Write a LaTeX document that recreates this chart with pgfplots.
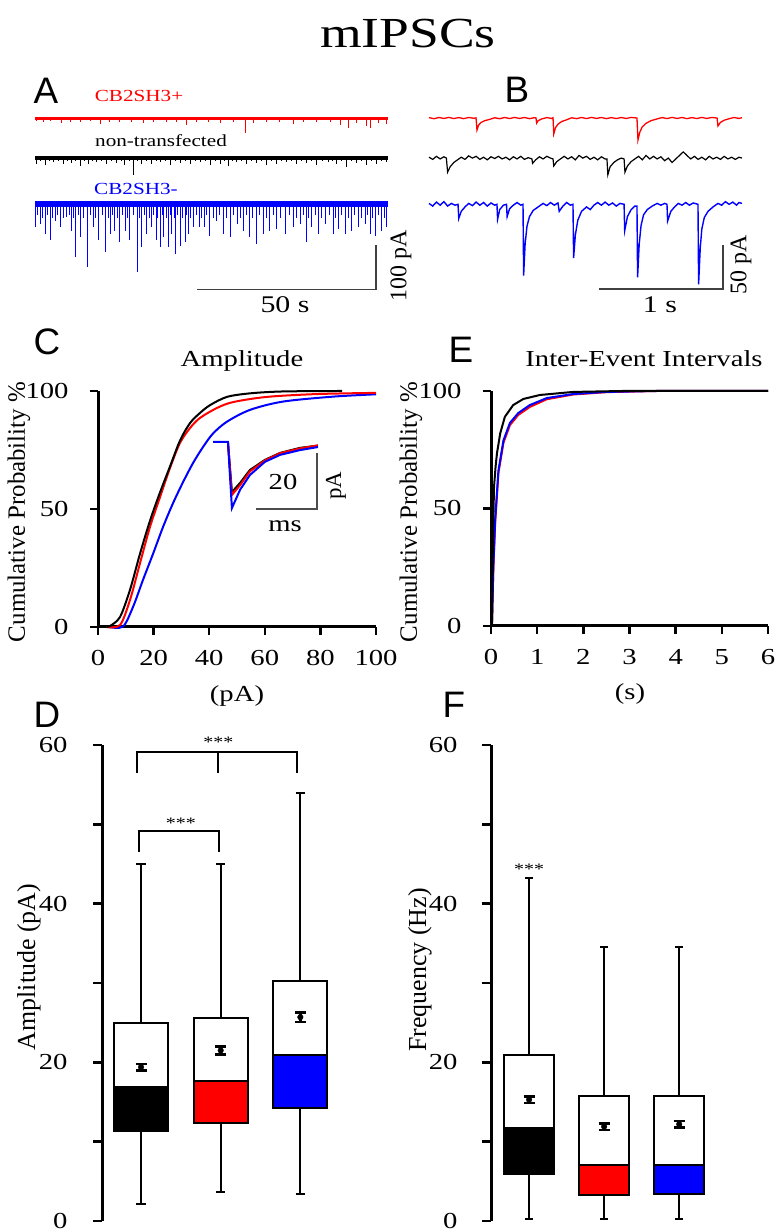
\documentclass[border=0pt]{standalone}
\usepackage{fontspec}
\setmainfont{Liberation Serif}[FakeStretch=1.25]
\newfontfamily\rotfont{Liberation Serif}
\newfontfamily\panelfont{Liberation Sans}
\usepackage{pgfplots}
\pgfplotsset{compat=1.18}
\usepgfplotslibrary{statistics}
\definecolor{tred}{RGB}{255,0,0}
\definecolor{tblue}{RGB}{0,0,255}
\newcommand\fs[1]{\fontsize{#1}{#1}\selectfont}

\pgfplotsset{
  trace/.style={scale only axis, anchor=south west, hide axis, clip=false},
  cum/.style={scale only axis, anchor=south west, clip=false,
    axis x line*=bottom, axis y line*=left,
    axis line style={line width=3bp},
    tick style={line width=2.5bp, black}, tick align=outside, major tick length=8bp,
    tick label style={font=\fs{23}}, /pgf/number format/assume math mode=true,
    ymin=0, ymax=100, ytick={0,50,100}},
  bx/.style={scale only axis, anchor=south west, clip=false,
    axis x line=none, axis y line*=left, xtick=\empty,
    axis line style={line width=3bp},
    tick style={line width=2.5bp, black}, tick align=outside, major tick length=9bp,
    tick label style={font=\fs{23}}, /pgf/number format/assume math mode=true,
    ymin=0, ymax=60, ytick={0,10,...,60}, yticklabels={0,,20,,40,,60},
    boxplot/draw direction=y},
  boxline/.style={draw=black, line width=2bp},
  meanpt/.style={black, only marks, mark=*, mark size=2.8bp,
    error bars/.cd, y dir=both, y explicit,
    error bar style={line width=2.5bp},
    error mark options={rotate=90, line width=2.5bp, mark size=5.5bp}},
}

\begin{document}
\begin{tikzpicture}[x=1bp,y=1bp]
\path[use as bounding box] (0,0) rectangle (776,1232);

% ---------- titles and panel letters
\node[anchor=base, font=\fs{43}] at (408,1184) {mIPSCs};
\node[anchor=base, font=\panelfont\fs{37}] at (46,1128) {A};
\node[anchor=base, font=\panelfont\fs{37}] at (517,1129) {B};
\node[anchor=base, font=\panelfont\fs{37}] at (47,877) {C};
\node[anchor=base, font=\panelfont\fs{37}] at (461,869) {E};
\node[anchor=base, font=\panelfont\fs{37}] at (47,504) {D};
\node[anchor=base, font=\panelfont\fs{37}] at (454,514) {F};

% ---------- A: 100 s traces
\begin{axis}[trace, at={(35bp,937bp)}, width=353bp, height=195bp,
  xmin=0, xmax=98.6, ymin=-402, ymax=41]
\addplot[tred, line width=3bp] coordinates {(0,0) (98.6,0)};
\addplot[draw=none, mark=none, error bars/.cd, y dir=minus, y explicit, error mark=none,
  error bar style={draw=tred, line width=0.8bp}] table[x=t, y expr=0, y error=d] {
t d
0.46 7.6
1.2 5
2.3 9.9
3.3 5
4.2 7.6
5.5 5
7.4 11.4
8.6 5
9.8 8.3
11.1 5
12.6 9.9
14.0 5
15.4 7.6
16.8 5
18.2 12.9
19.5 5
20.9 8.3
22.3 5
23.7 9.9
25.4 5
27.0 8.3
28.6 5
30.3 11.4
31.7 5
33.0 8.3
34.9 5
36.8 9.9
38.2 5
39.6 8.3
41.0 5
42.4 16.7
43.8 5
45.1 9.9
46.8 5
48.4 8.3
50.0 5
51.7 11.4
53.6 5
55.4 9.9
57.2 5
58.9 34.1
61.0 11.4
62.8 5
64.7 8.3
66.6 5
68.4 9.9
70.3 5
72.2 12.9
73.6 5
75.0 8.3
76.8 5
78.7 9.9
80.5 5
82.4 8.3
84.0 5
85.2 16.7
86.3 5
87.5 22.7
88.6 5
89.8 11.4
91.2 5
92.6 19.0
93.6 22.7
94.8 5
95.9 11.4
97.0 5
98.2 12.9
};
\addplot[black, line width=4.5bp] coordinates {(0,-91) (98.6,-91)};
\addplot[draw=none, mark=none, error bars/.cd, y dir=minus, y explicit, error mark=none,
  error bar style={draw=black, line width=0.8bp}] table[x=t, y expr=-91, y error=d] {
t d
0.46 12.9
1.6 6
2.8 16.7
3.9 6
5.1 9.1
6.5 6
7.9 14.4
9.0 6
10.2 11.4
11.4 6
12.6 19.0
13.8 6
14.9 12.9
16.0 6
17.2 9.1
18.6 6
20.0 14.4
21.4 6
22.8 11.4
24.0 6
25.1 16.7
26.3 6
27.5 39.4
28.7 6
29.8 12.9
31.2 6
32.6 14.4
33.8 6
34.9 9.1
36.3 6
37.7 16.7
39.1 6
40.5 11.4
41.9 6
43.3 14.4
44.7 6
46.1 9.1
47.5 6
48.9 16.7
50.3 6
51.7 12.9
52.9 6
54.0 19.0
55.2 6
56.3 9.1
57.7 6
59.1 14.4
60.5 6
61.9 11.4
63.3 6
64.7 16.7
66.1 6
67.5 12.9
68.9 6
70.3 9.1
71.7 6
73.1 14.4
74.5 6
75.9 11.4
77.3 6
78.7 16.7
80.3 6
81.9 9.1
83.1 6
84.3 14.4
85.6 6
87.0 20.5
88.4 6
89.8 11.4
91.2 6
92.6 16.7
94.0 6
95.4 12.9
96.8 6
98.2 9.1
};
\addplot[tblue, line width=6bp] coordinates {(0,-195) (98.6,-195)};
\addplot[draw=none, mark=none, error bars/.cd, y dir=minus, y explicit, error mark=none,
  error bar style={draw=tblue, line width=0.8bp}] table[x=t, y expr=-195, y error=d] {
t d
0.0 53
0.7 25
1.4 45
2.1 32
2.8 68
3.5 25
4.2 83
4.9 32
5.6 38
6.3 25
7.0 53
7.9 32
8.8 30
9.5 25
10.1 61
10.8 32
11.4 121
12.0 25
12.6 76
13.6 32
14.6 143
15.5 25
16.3 53
17.0 32
17.7 83
18.8 25
19.8 110
20.5 32
21.1 68
21.7 25
22.3 61
23.0 32
23.7 87
24.5 25
25.3 61
25.9 32
26.5 83
27.6 25
28.7 155
29.2 32
29.8 99
30.5 25
31.2 68
31.9 32
32.6 53
33.2 25
33.8 83
34.3 32
34.9 99
35.5 25
36.0 76
36.6 32
37.2 99
37.7 25
38.2 68
38.8 32
39.3 114
39.9 25
40.5 95
41.2 32
41.9 87
42.3 25
42.8 68
43.5 32
44.2 53
45.0 25
45.9 53
46.5 32
47.2 53
48.0 25
48.7 72
49.7 32
50.7 38
51.6 25
52.6 68
53.5 32
54.5 76
55.5 25
56.5 45
57.3 32
58.2 61
59.0 25
59.9 76
60.8 32
61.7 91
62.7 25
63.8 68
64.7 32
65.6 61
66.5 25
67.5 57
68.6 32
69.8 68
71.0 25
72.2 53
73.1 32
74.0 45
74.9 25
75.7 87
76.5 32
77.3 53
78.2 25
79.1 68
80.0 32
81.0 45
82.1 25
83.3 68
84.0 32
84.7 57
85.6 25
86.6 68
87.5 32
88.4 61
89.3 25
90.3 53
91.2 32
92.2 45
92.9 25
93.6 68
94.3 32
95.0 72
95.9 25
96.8 61
97.5 32
98.2 53
};
% scale bar 50 s / 100 pA
\addplot[black!75, line width=1.3bp] coordinates {(45.25,-389) (95.25,-389) (95.25,-289)};
\end{axis}
\node[font=\fs{17}, text=tred] at (139,1136) {CB2SH3+};
\node[font=\fs{17}] at (161,1091) {non-transfected};
\node[font=\fs{17}, text=tblue] at (136,1043) {CB2SH3-};
\node[anchor=base, font=\fs{24}] at (285,919) {50 s};
\node[rotate=90, font=\rotfont\fs{24}] at (401,966) {100 pA};

% ---------- B: 2.5 s traces
\begin{axis}[trace, at={(429bp,937bp)}, width=313bp, height=195bp,
  xmin=0, xmax=2.524, ymin=-201, ymax=20.5]
\addplot[tred, line width=1.3bp] table[x=t, y=v] {
t v
0 0.5
0.04 -0.8
0.08 0.6
0.12 -0.5
0.16 0.7
0.2 -0.6
0.24 0.5
0.28 -0.7
0.32 0.6
0.36 -0.3
0.379 0.2
0.387 -13.6
0.40 -8
0.42 -5
0.45 -3
0.49 -1.5
0.53 0.3
0.57 -0.8
0.61 0.6
0.65 -0.6
0.69 0.7
0.73 -0.5
0.77 0.6
0.81 -0.7
0.85 0.4
0.863 0
0.868 -5.7
0.88 -3
0.91 -1
0.95 0.5
0.99 -0.5
1.0 0.3
1.006 -18
1.02 -11
1.04 -7
1.07 -4
1.11 -2
1.15 0.3
1.19 -0.7
1.23 0.6
1.27 -0.6
1.31 0.7
1.35 -0.5
1.39 0.6
1.43 -0.7
1.47 0.5
1.51 -0.6
1.55 0.6
1.59 -0.5
1.63 0.7
1.677 0
1.685 -25
1.70 -16
1.72 -10
1.75 -6
1.79 -3
1.84 -1
1.88 0.5
1.92 -0.6
1.96 0.7
2.0 -0.5
2.04 0.6
2.08 -0.7
2.12 0.5
2.16 -0.6
2.2 0.7
2.24 -0.5
2.28 0.6
2.323 0
2.33 -9
2.35 -5
2.38 -2.5
2.42 -0.8
2.46 0.6
2.5 -0.5
2.524 0.4
};
\addplot[black, line width=1.2bp] table[x=t, y expr=\thisrow{v}-45.5] {
t v
0 1
0.03 -1.5
0.06 2
0.09 -1
0.12 1.5
0.14 0
0.15 -16
0.17 -10
0.2 -5
0.23 -2
0.26 1
0.29 -1.5
0.32 2.5
0.35 0
0.38 2
0.41 -1.5
0.44 1
0.47 -2
0.5 1.5
0.53 -0.5
0.56 2
0.59 -1
0.62 1
0.65 -2
0.68 1.5
0.71 -1
0.74 2
0.77 -1.5
0.80 0.5
0.83 -1
0.835 -6
0.86 -2
0.89 1.5
0.92 -1
0.95 2
0.98 0
1.0 -1
1.006 -9
1.03 -4
1.06 -1
1.09 2
1.12 -1
1.15 1.5
1.18 -2
1.21 3
1.24 0
1.27 2
1.3 -1.5
1.33 1
1.36 -2
1.39 1.5
1.42 -1
1.435 -1
1.442 -19
1.46 -10
1.49 -5
1.52 -2
1.55 0
1.573 -1
1.58 -16
1.6 -9
1.63 -4
1.66 -1
1.69 2
1.72 -2
1.75 3
1.78 -1
1.81 2
1.84 -1
1.87 1.5
1.9 -3
1.93 0
1.96 -5
1.99 -1
2.02 3
2.05 7
2.08 3
2.11 -1
2.14 2
2.17 -1.5
2.2 1
2.23 -2
2.26 2
2.29 -1
2.32 1
2.35 -1.5
2.38 2
2.41 -1
2.44 1
2.47 -1.5
2.5 1
2.524 0
};
\addplot[tblue, line width=1.4bp] table[x=t, y expr=\thisrow{v}-98] {
t v
0 1
0.03 -2
0.06 2.5
0.09 -1
0.12 3
0.15 -2
0.18 1
0.21 -1
0.234 0
0.24 -16
0.26 -8
0.29 -3
0.32 1
0.35 -1.5
0.38 2.5
0.41 -1
0.44 2
0.47 -2
0.5 1.5
0.53 -1
0.548 0
0.553 -17
0.57 -6
0.6 -1
0.625 0
0.63 -14
0.65 -5
0.68 -1
0.71 2
0.74 -1
0.758 0
0.763 -81
0.775 -45
0.79 -25
0.81 -14
0.84 -7
0.88 -3
0.92 1
0.95 -1.5
0.98 2
1.01 -1
1.04 1.5
1.05 -8
1.08 -2
1.11 2
1.14 -1
1.161 0
1.166 -61
1.18 -35
1.2 -18
1.23 -8
1.27 -3
1.3 -6
1.33 -1
1.36 2
1.39 -1
1.42 2.5
1.45 -1
1.48 1.5
1.51 -2
1.54 1
1.573 0
1.578 -30
1.6 -14
1.63 -6
1.66 -2
1.677 -2
1.682 -83
1.695 -45
1.71 -24
1.73 -12
1.76 -6
1.8 -2
1.84 1
1.87 -1
1.9 1
1.919 0
1.924 -19
1.95 -8
1.98 -3
2.01 1
2.04 -1
2.07 2
2.1 -1
2.13 1.5
2.169 0
2.174 -91
2.187 -50
2.2 -28
2.22 -15
2.25 -8
2.29 -3
2.33 1
2.36 -1
2.39 3
2.42 0
2.45 2.5
2.48 -1
2.5 2
2.524 1
};
% scale bar 1 s / 50 pA
\addplot[black!75, line width=1.3bp] coordinates {(1.371,-194.3) (2.371,-194.3) (2.371,-144.3)};
\end{axis}
\node[anchor=base, font=\fs{24}] at (660,919) {1 s};
\node[rotate=90, font=\rotfont\fs{24}] at (741,967) {50 pA};

% ---------- C: amplitude cumulative
\node[anchor=base, font=\fs{23}] at (242,865) {Amplitude};
\begin{axis}[cum, at={(98bp,605bp)}, width=278bp, height=236bp,
  xmin=0, xmax=100, xtick={0,20,...,100},
  xticklabel style={yshift=-12bp}, yticklabel style={xshift=-18bp}]
\addplot[tblue, line width=2bp, smooth] coordinates {(4,0) (9,0.2) (12.6,8.5) (16.2,20) (19.8,31) (23.4,42.4) (27,52.5) (30.6,61.4) (34.2,69.5) (37.8,76.3) (41.4,82) (46.4,87) (54.7,92) (66.5,95.5) (84.5,97.6) (100,98.6)};
\addplot[tred, line width=2bp, smooth] coordinates {(3,0) (7.9,0.8) (11.5,11.4) (15.1,27) (18.7,42.4) (22.3,55) (25.9,67.4) (29.5,78) (33.1,84.3) (36.7,88.6) (42.8,92.8) (48.6,95.3) (60.8,97.5) (78.8,98.7) (100,99.2)};
\addplot[black, line width=2bp, smooth] coordinates {(3,0) (4.3,0.4) (7.9,4.2) (11.5,15.7) (15.1,31) (18.7,45) (22.3,57) (25.9,68) (29.5,79) (33.1,86.4) (36.7,90.7) (40.3,94) (46.4,97.5) (54.7,99) (66.5,99.8) (87.8,100)};
\end{axis}
\node[rotate=90, font=\rotfont\fs{25}] at (19,720) {Cumulative Probability \%};
\node[anchor=base, font=\fs{23}] at (237,530) {(pA)};

% inset: averaged mIPSC
\begin{axis}[trace, at={(213bp,720bp)}, width=122bp, height=72.8bp,
  xmin=0, xmax=40, ymin=-25, ymax=1]
\addplot[black, line width=2bp] coordinates {(4.9,0) (6.2,-17.9) (8.9,-14.6) (12.1,-10) (17,-6.4) (22,-3.9) (28.5,-2.1) (34.4,-1.3)};
\addplot[tred, line width=2bp] coordinates {(4.9,0) (6.2,-18.9) (8.9,-15.4) (12.1,-10.5) (17,-6.6) (22,-4.0) (28.5,-2.3) (34.4,-1.2)};
\addplot[tblue, line width=2bp] coordinates {(0,0) (4.9,0) (6.2,-23.6) (8.9,-17) (12.1,-11.8) (17,-7.1) (22,-4.6) (28.5,-2.9) (34.4,-1.8)};
\addplot[black!70, line width=1.3bp] coordinates {(14.1,-23.9) (34.1,-23.9) (34.1,-3.9)};
\end{axis}
\node[anchor=base, font=\fs{23}] at (283,742) {20};
\node[anchor=base, font=\fs{23}] at (285,700) {ms};
\node[rotate=90, font=\rotfont\fs{23}] at (336,746) {pA};

% ---------- E: inter-event interval cumulative
\node[anchor=base, font=\fs{23}] at (644,865) {Inter-Event Intervals};
\begin{axis}[cum, at={(491bp,606bp)}, width=277bp, height=235bp,
  xmin=0, xmax=6, xtick={0,...,6},
  xticklabel style={yshift=-12bp}, yticklabel style={xshift=-18bp}]
\addplot[tred, line width=2bp] coordinates {(0,0) (0.02,0) (0.05,24) (0.09,44) (0.16,65) (0.27,78) (0.41,85.5) (0.59,89.8) (0.84,93.2) (1.21,96.5) (1.78,98.5) (2.5,99.5) (3.6,100) (6,100)};
\addplot[tblue, line width=2bp] coordinates {(0,0) (0.02,0) (0.05,25) (0.09,45) (0.16,66) (0.27,79) (0.41,86.4) (0.59,90.6) (0.84,94) (1.21,97) (1.78,98.7) (2.5,99.6) (3.6,100) (6,100)};
\addplot[black, line width=2bp] coordinates {(0,0) (0.02,0) (0.04,35) (0.065,59) (0.1,68) (0.13,73.6) (0.2,82) (0.3,89) (0.48,94) (0.7,96.6) (1.06,98.3) (1.78,99.6) (2.86,100) (6,100)};
\end{axis}
\node[rotate=90, font=\rotfont\fs{25}] at (411,720) {Cumulative Probability \%};
\node[anchor=base, font=\fs{23}] at (630,532) {(s)};

% ---------- D: amplitude box plots
\begin{axis}[bx, at={(102bp,11bp)}, width=278bp, height=476bp,
  xmin=0.51, xmax=4.0, yticklabel style={xshift=-22bp},
  boxplot/box extend=0.68, boxplot/whisker extend=0.12]
\addplot[boxline, fill=white, boxplot prepared={draw position=1, lower whisker=2.2, lower quartile=11.4, median=16.9, upper quartile=24.9, upper whisker=45}] coordinates {};
\addplot[boxline, fill=black, boxplot/whisker extend=0, boxplot prepared={draw position=1, lower whisker=11.4, lower quartile=11.4, median=16.9, upper quartile=16.9, upper whisker=16.9}] coordinates {};
\addplot[boxline, fill=white, boxplot prepared={draw position=2, lower whisker=3.6, lower quartile=12.4, median=17.7, upper quartile=25.6, upper whisker=45}] coordinates {};
\addplot[boxline, fill=tred, boxplot/whisker extend=0, boxplot prepared={draw position=2, lower whisker=12.4, lower quartile=12.4, median=17.7, upper quartile=17.7, upper whisker=17.7}] coordinates {};
\addplot[boxline, fill=white, boxplot prepared={draw position=3, lower whisker=3.4, lower quartile=14.3, median=20.9, upper quartile=30.3, upper whisker=54}] coordinates {};
\addplot[boxline, fill=tblue, boxplot/whisker extend=0, boxplot prepared={draw position=3, lower whisker=14.3, lower quartile=14.3, median=20.9, upper quartile=20.9, upper whisker=20.9}] coordinates {};
\addplot[meanpt] coordinates {(1,19.4) +- (0,0.4) (2,21.5) +- (0,0.5) (3,25.7) +- (0,0.6)};
\addplot[black, line width=2bp] coordinates {(0.95,56.5) (0.95,59.1) (2.96,59.1) (2.96,56.5)};
\addplot[black, line width=2bp] coordinates {(1.97,59.1) (1.97,56.5)};
\addplot[black, line width=2bp] coordinates {(0.975,46.5) (0.975,49.1) (1.98,49.1) (1.98,46.5)};
\node[anchor=base, font=\fs{16}] at (axis cs:1.97,59.7) {***};
\node[anchor=base, font=\fs{16}] at (axis cs:1.5,49.5) {***};
\end{axis}
\node[rotate=90, font=\rotfont\fs{26}] at (29,265) {Amplitude (pA)};

% ---------- F: frequency box plots
\begin{axis}[bx, at={(491bp,11bp)}, width=285bp, height=476bp,
  xmin=0.493, xmax=4.29, yticklabel style={xshift=-21bp},
  boxplot/box extend=0.667, boxplot/whisker extend=0.11]
\addplot[boxline, fill=white, boxplot prepared={draw position=1, lower whisker=0.2, lower quartile=5.9, median=11.7, upper quartile=20.9, upper whisker=43.2}] coordinates {};
\addplot[boxline, fill=black, boxplot/whisker extend=0, boxplot prepared={draw position=1, lower whisker=5.9, lower quartile=5.9, median=11.7, upper quartile=11.7, upper whisker=11.7}] coordinates {};
\addplot[boxline, fill=white, boxplot prepared={draw position=2, lower whisker=0.2, lower quartile=3.3, median=7.1, upper quartile=15.7, upper whisker=34.5}] coordinates {};
\addplot[boxline, fill=tred, boxplot/whisker extend=0, boxplot prepared={draw position=2, lower whisker=3.3, lower quartile=3.3, median=7.1, upper quartile=7.1, upper whisker=7.1}] coordinates {};
\addplot[boxline, fill=white, boxplot prepared={draw position=3, lower whisker=0.2, lower quartile=3.4, median=7.1, upper quartile=15.8, upper whisker=34.5}] coordinates {};
\addplot[boxline, fill=tblue, boxplot/whisker extend=0, boxplot prepared={draw position=3, lower whisker=3.4, lower quartile=3.4, median=7.1, upper quartile=7.1, upper whisker=7.1}] coordinates {};
\addplot[meanpt] coordinates {(1,15.3) +- (0,0.4) (2,11.9) +- (0,0.4) (3,12.2) +- (0,0.4)};
\node[anchor=base, font=\fs{16}] at (axis cs:1,43.7) {***};
\end{axis}
\node[rotate=90, font=\rotfont\fs{26}] at (420,262) {Frequency (Hz)};
\end{tikzpicture}
\end{document}
